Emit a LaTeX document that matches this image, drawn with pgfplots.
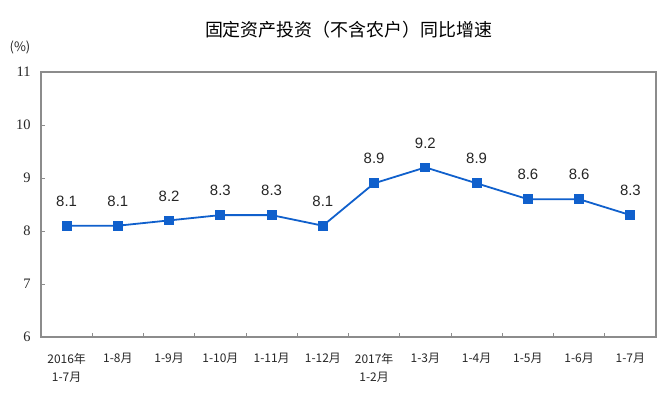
\documentclass[border=0pt]{standalone}
\usepackage{pgfplots}
\pgfplotsset{compat=1.18}
\usepackage{fontspec}
\setmainfont{Liberation Sans}
\newfontfamily\cjk{Noto Sans CJK SC}
\newfontfamily\numf{Liberation Serif}
\definecolor{lineblue}{HTML}{1060CC}
\definecolor{axgray}{HTML}{8C8C8C}
\begin{document}
\begin{tikzpicture}[x=1bp,y=1bp]
\useasboundingbox (0,0) rectangle (668,396);
\begin{axis}[
  at={(41bp,59bp)}, anchor=south west,
  scale only axis, width=615bp, height=265bp,
  xmin=-0.5, xmax=11.5, ymin=6, ymax=11,
  xtick={0,...,11},
  xticklabels={{2016年\\1-7月},1-8月,1-9月,1-10月,1-11月,1-12月,{2017年\\1-2月},1-3月,1-4月,1-5月,1-6月,1-7月},
  xticklabel style={font=\cjk\fontsize{12}{18}\selectfont, align=center, anchor=north, yshift=-13bp, text=black!85},
  minor xtick={0.5,1.5,...,10.5},
  major x tick style={draw=none},
  minor tick length=4bp,
  major tick length=4bp,
  tick align=inside,
  xtick pos=bottom, ytick pos=left,
  ytick={6,7,8,9,10,11},
  yticklabel style={font=\numf\fontsize{14.5}{16}\selectfont, text=black!85, xshift=-7bp},
  /pgf/number format/assume math mode=true,
  tick style={draw=axgray, line width=0.8bp},
  axis line style={draw=axgray, line width=1.2bp},
  title={\cjk\fontsize{18}{21}\selectfont 固定资产投资（不含农户）同比增速},
  title style={yshift=24bp},
  clip=false,
  nodes near coords,
  every node near coord/.append style={font=\fontsize{15}{17}\selectfont, text=black!85, yshift=15bp},
  point meta=explicit symbolic,
]
\draw[axgray, line width=1.2bp] (rel axis cs:0,0) rectangle (rel axis cs:1,1);
\addplot[color=lineblue, line width=1.8bp, mark=square*, mark size=4bp, mark options={fill=lineblue, draw=lineblue}]
  table[meta=label] {
x y label
0 8.1 8.1
1 8.1 8.1
2 8.2 8.2
3 8.3 8.3
4 8.3 8.3
5 8.1 8.1
6 8.9 8.9
7 9.2 9.2
8 8.9 8.9
9 8.6 8.6
10 8.6 8.6
11 8.3 8.3
};
\end{axis}
\node[font=\cjk\fontsize{13}{15}\selectfont, text=black!85] at (20bp,349bp) {(\%)};
\end{tikzpicture}
\end{document}
